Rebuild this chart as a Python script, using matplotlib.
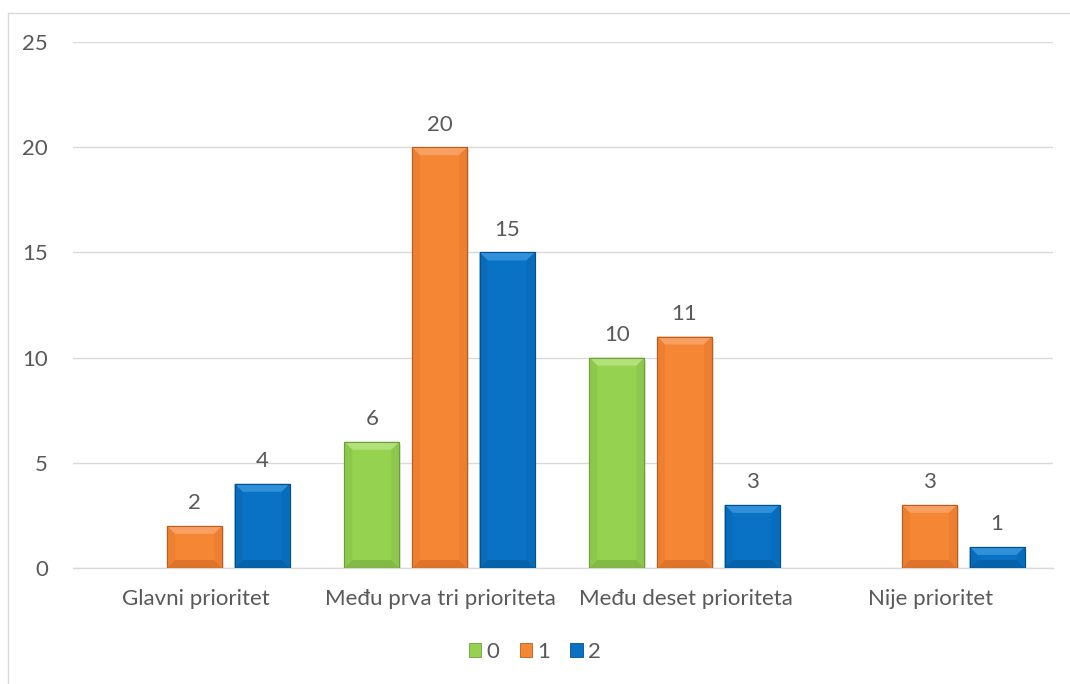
import matplotlib
matplotlib.use("Agg")
import matplotlib.pyplot as plt
from matplotlib.patches import Polygon, Patch
from matplotlib.lines import Line2D
import numpy as np

categories = ["Glavni prioritet", "Među prva tri prioriteta", "Među deset prioriteta", "Nije prioritet"]
series_names = ["0", "1", "2"]
values_0 = [0, 6, 10, 0]
values_1 = [2, 20, 11, 3]
values_2 = [4, 15, 3, 1]
yticks = [0, 5, 10, 15, 20, 25]

series = [values_0, values_1, values_2]
base_cols = ["#94D250", "#F58634", "#0A72C4"]
top_cols = ["#B2E17C", "#F8A062", "#3090DA"]
side_cols = ["#8CC84B", "#EC7F30", "#086CBA"]
bot_cols = ["#82BA45", "#DD7429", "#0662AA"]
edge_cols = ["#6E9E3C", "#B85E22", "#054F8A"]

plt.rcParams['font.family'] = ['Lato', 'DejaVu Sans']
txt = "#595959"
fs = 16

fig = plt.figure(figsize=(10.7, 6.84), dpi=100)
ax = fig.add_axes([73 / 1070, 0.1696, 980 / 1070, 0.769])
ax.set_xlim(-0.5, 3.5)
ax.set_ylim(0, 25)

x = np.arange(len(categories))
width = 0.225
offsets = [-0.28, -0.004, 0.272]

# bevel sizes in data units (approx 8 px)
dx = 8 / 245
dy = 8 * 25 / 526

for i, vals in enumerate(series):
    for xi, v in zip(x, vals):
        if v == 0:
            continue
        xc = xi + offsets[i]
        bars = ax.bar([xc], [v], width=width, color=base_cols[i],
                      edgecolor=edge_cols[i], linewidth=0.8, zorder=3)
        r = bars[0]
        x0, x1 = r.get_x(), r.get_x() + r.get_width()
        y0, y1 = 0, r.get_height()
        # shadow
        ax.add_patch(Polygon([(x0 + 0.004, y0 - 0.06), (x1 + 0.006, y0 - 0.06),
                              (x1 + 0.006, y1 - 0.1), (x0 + 0.004, y1 - 0.1)],
                             closed=True, facecolor="#cccccc", edgecolor="none",
                             alpha=0.5, zorder=2))
        polys = [
            ([(x0, y1), (x1, y1), (x1 - dx, y1 - dy), (x0 + dx, y1 - dy)], top_cols[i]),
            ([(x0, y0), (x1, y0), (x1 - dx, y0 + dy), (x0 + dx, y0 + dy)], bot_cols[i]),
            ([(x0, y0), (x0 + dx, y0 + dy), (x0 + dx, y1 - dy), (x0, y1)], side_cols[i]),
            ([(x1, y0), (x1 - dx, y0 + dy), (x1 - dx, y1 - dy), (x1, y1)], side_cols[i]),
        ]
        for pts, c in polys:
            ax.add_patch(Polygon(pts, closed=True, facecolor=c, edgecolor="none", zorder=4))
        ax.add_patch(Polygon([(x0, y0), (x1, y0), (x1, y1), (x0, y1)], closed=True,
                             facecolor="none", edgecolor=edge_cols[i], linewidth=0.8, zorder=5))
        ax.annotate(str(v), (xc, v), xytext=(0, 9), textcoords="offset points",
                    ha="center", va="bottom", fontsize=fs, color=txt, zorder=6)

ax.set_yticks(yticks)
ax.set_yticklabels([str(t) for t in yticks], fontsize=fs, color=txt)
ax.set_xticks(x)
ax.set_xticklabels(categories, fontsize=fs, color=txt)
ax.tick_params(axis="both", length=0)
ax.tick_params(axis="y", pad=18)
ax.tick_params(axis="x", pad=15)
ax.grid(axis="y", color="#d9d9d9", linewidth=1, zorder=0)
ax.set_axisbelow(True)
for s in ["top", "right", "left"]:
    ax.spines[s].set_visible(False)
ax.spines["bottom"].set_color("#d9d9d9")
ax.spines["bottom"].set_linewidth(1)

handles = [Patch(facecolor=base_cols[i], edgecolor=edge_cols[i], linewidth=0.6) for i in range(3)]
leg = fig.legend(handles, series_names, loc="center", bbox_to_anchor=(0.5, 0.047),
                 ncol=3, frameon=False, fontsize=fs, handlelength=0.55, handleheight=0.55,
                 handletextpad=0.25, columnspacing=0.9)
for t in leg.get_texts():
    t.set_color(txt)

# chart frame (left and top edges visible)
fig.add_artist(Line2D([8 / 1070, 8 / 1070], [0, 1 - 13 / 684], transform=fig.transFigure,
                      color="#d9d9d9", linewidth=1))
fig.add_artist(Line2D([8 / 1070, 1], [1 - 13 / 684, 1 - 13 / 684], transform=fig.transFigure,
                      color="#d9d9d9", linewidth=1))

fig.savefig("out.png", dpi=100)
